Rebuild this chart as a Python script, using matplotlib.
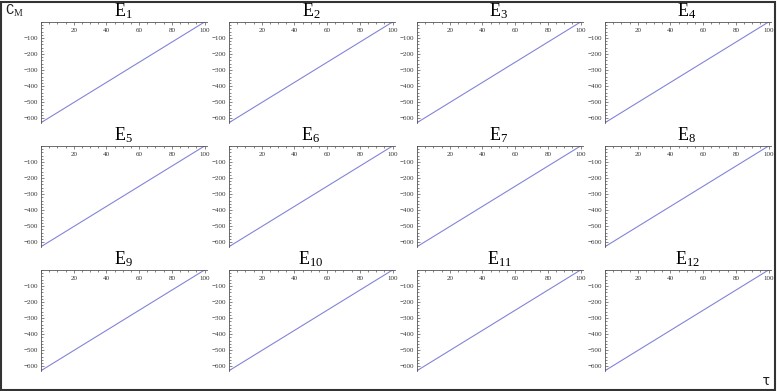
import matplotlib
matplotlib.use("Agg")
import matplotlib.pyplot as plt
from matplotlib.ticker import MultipleLocator, FuncFormatter
from matplotlib.patches import Rectangle

plt.rcParams['mathtext.fontset'] = 'custom'
plt.rcParams['mathtext.rm'] = 'Liberation Serif'
plt.rcParams['mathtext.it'] = 'Liberation Serif'

# data
titles = ["E1", "E2", "E3", "E4", "E5", "E6", "E7", "E8", "E9", "E10", "E11", "E12"]
tau = [0, 100]
cm_start = [-628] * 12
cm_end = [0] * 12
x_ticks = [20, 40, 60, 80, 100]
y_ticks = [-100, -200, -300, -400, -500, -600]

W, H = 777, 391
fig = plt.figure(figsize=(W / 100, H / 100), dpi=100)

col_left = [41, 229, 417, 605]
row_top = [22, 146, 270]
ax_w, ax_h = 166, 101
line_color = '#8484d8'
axis_color = '#555555'

for i, t in enumerate(titles):
    r, c = divmod(i, 4)
    l = col_left[c]
    tp = row_top[r]
    ax = fig.add_axes([l / W, 1 - (tp + ax_h) / H, ax_w / W, ax_h / H])
    ax.plot(tau, [cm_start[i], cm_end[i]], color=line_color, lw=0.8)
    ax.set_xlim(0, 101.5)
    ax.set_ylim(-630, 0)
    ax.patch.set_alpha(0)
    for s in ['right', 'top']:
        ax.spines[s].set_visible(False)
    ax.spines['bottom'].set_position(('data', 0))
    for s in ['bottom', 'left']:
        ax.spines[s].set_color(axis_color)
        ax.spines[s].set_linewidth(0.6)
    ax.set_xticks(x_ticks)
    ax.set_yticks(y_ticks)
    ax.xaxis.set_minor_locator(MultipleLocator(5))
    ax.yaxis.set_minor_locator(MultipleLocator(20))
    ax.tick_params(axis='x', which='both', direction='out', colors=axis_color,
                   labelsize=5, pad=1.5, width=0.5)
    ax.tick_params(axis='x', which='major', length=2.5)
    ax.tick_params(axis='x', which='minor', length=1.3)
    ax.tick_params(axis='y', which='both', direction='in', colors=axis_color,
                   labelsize=5, pad=2, width=0.5)
    ax.tick_params(axis='y', which='major', length=2.5)
    ax.tick_params(axis='y', which='minor', length=1.3)
    for lab in ax.get_xticklabels() + ax.get_yticklabels():
        lab.set_family('Liberation Serif')
        lab.set_color('#333333')
    ax.yaxis.set_major_formatter(FuncFormatter(lambda v, p: '\u2212' + str(int(-v))))
    num = t[1:]
    fig.text((l + 82) / W, 1 - (tp - 11) / H, r'$\mathrm{E}_{%s}$' % num,
             ha='center', va='center', fontsize=13, color='black')

fig.text(5 / W, 1 - 11 / H, r'C$_{\mathrm{M}}$', family='Liberation Mono',
         fontsize=10, ha='left', va='center', color='#222222')
fig.text(766 / W, 1 - 381 / H, '\u03c4', family='DejaVu Sans Mono',
         fontsize=10, ha='center', va='center', color='#222222')

fig.patches.append(Rectangle((1 / W, 1 / H), (W - 3) / W, (H - 3) / H,
                             transform=fig.transFigure, fill=False,
                             edgecolor='#333333', lw=1.5))

fig.savefig('out.png', dpi=100)
